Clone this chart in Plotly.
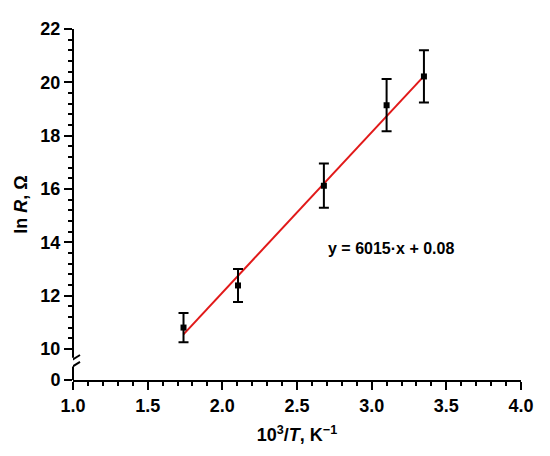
import numpy as np
import plotly.graph_objects as go

# data
inv_t = [1.74, 2.105, 2.68, 3.10, 3.35]
ln_r = [10.80, 12.38, 16.12, 19.14, 20.22]
ln_r_err = [0.55, 0.62, 0.83, 0.98, 0.98]

fit_slope = 6.015   # per 10^3/T
fit_icpt = 0.08
fit_x = [1.74, 3.35]

y_ticks = [10, 12, 14, 16, 18, 20, 22]
x_ticks = [1.0, 1.5, 2.0, 2.5, 3.0, 3.5, 4.0]

# broken axis: value 0 sits just below 10
y_zero = 8.833
gap_top, gap_bot = 9.67, 9.34

fnt = dict(family="Arial, Liberation Sans", size=18, color="black")

fig = go.Figure()
fig.add_trace(go.Scatter(
    x=fit_x, y=[fit_slope * v + fit_icpt for v in fit_x],
    mode="lines", line=dict(color="rgb(225,25,25)", width=2), showlegend=False))
fig.add_trace(go.Scatter(
    x=inv_t, y=ln_r, mode="markers",
    marker=dict(symbol="square", size=6, color="black"),
    error_y=dict(type="data", array=ln_r_err, color="black", thickness=2, width=5),
    showlegend=False))

# y axis line with break
for a, b in [(gap_top, 22), (y_zero, gap_bot)]:
    fig.add_shape(type="line", xref="paper", yref="y", x0=0, x1=0, y0=a, y1=b,
                  line=dict(color="black", width=2))
for yc in [9.36, 9.62]:
    fig.add_shape(type="line", xref="x", yref="y", xsizemode="pixel", ysizemode="pixel",
                  xanchor=1.0, yanchor=yc, x0=-6, x1=7, y0=-4, y1=4,
                  line=dict(color="black", width=2))

fig.add_annotation(x=3.13, y=13.78, text="<b>y = 6015·x + 0.08</b>", showarrow=False,
                   font=dict(family="Arial, Liberation Sans", size=16, color="black"))

minor_y = [v for v in np.arange(10, 22.01, 0.4) if min(abs(v - t) for t in y_ticks) > 0.01]

fig.update_layout(
    width=550, height=456,
    margin=dict(l=65, r=37, t=11, b=84),
    plot_bgcolor="white", paper_bgcolor="white",
    xaxis=dict(range=[1.0, 4.0], tickvals=x_ticks, ticktext=[f"<b>{v:.1f}</b>" for v in x_ticks],
               showgrid=False, zeroline=False, showline=True, linecolor="black", linewidth=2,
               ticks="outside", ticklen=8, tickwidth=2, tickcolor="black", tickfont=fnt,
               minor=dict(dtick=0.1, tick0=1.0, ticks="outside", ticklen=4, tickwidth=2,
                          tickcolor="black"),
               title=dict(text="<b>10<sup>3</sup>/<i>T</i>, K<sup>−1</sup></b>", font=fnt,
                          standoff=14)),
    yaxis=dict(range=[y_zero, 22], tickvals=[y_zero] + y_ticks,
               ticktext=["<b>0</b>"] + [f"<b>{v}</b>" for v in y_ticks],
               showgrid=False, zeroline=False, showline=False,
               ticks="outside", ticklen=8, tickwidth=2, tickcolor="black", tickfont=fnt,
               minor=dict(tickmode="array", tickvals=minor_y, ticks="outside", ticklen=4,
                          tickwidth=2, tickcolor="black"),
               title=dict(text="<b>ln <i>R</i>, Ω</b>", font=fnt, standoff=8)),
)

fig.write_html("out.html")
